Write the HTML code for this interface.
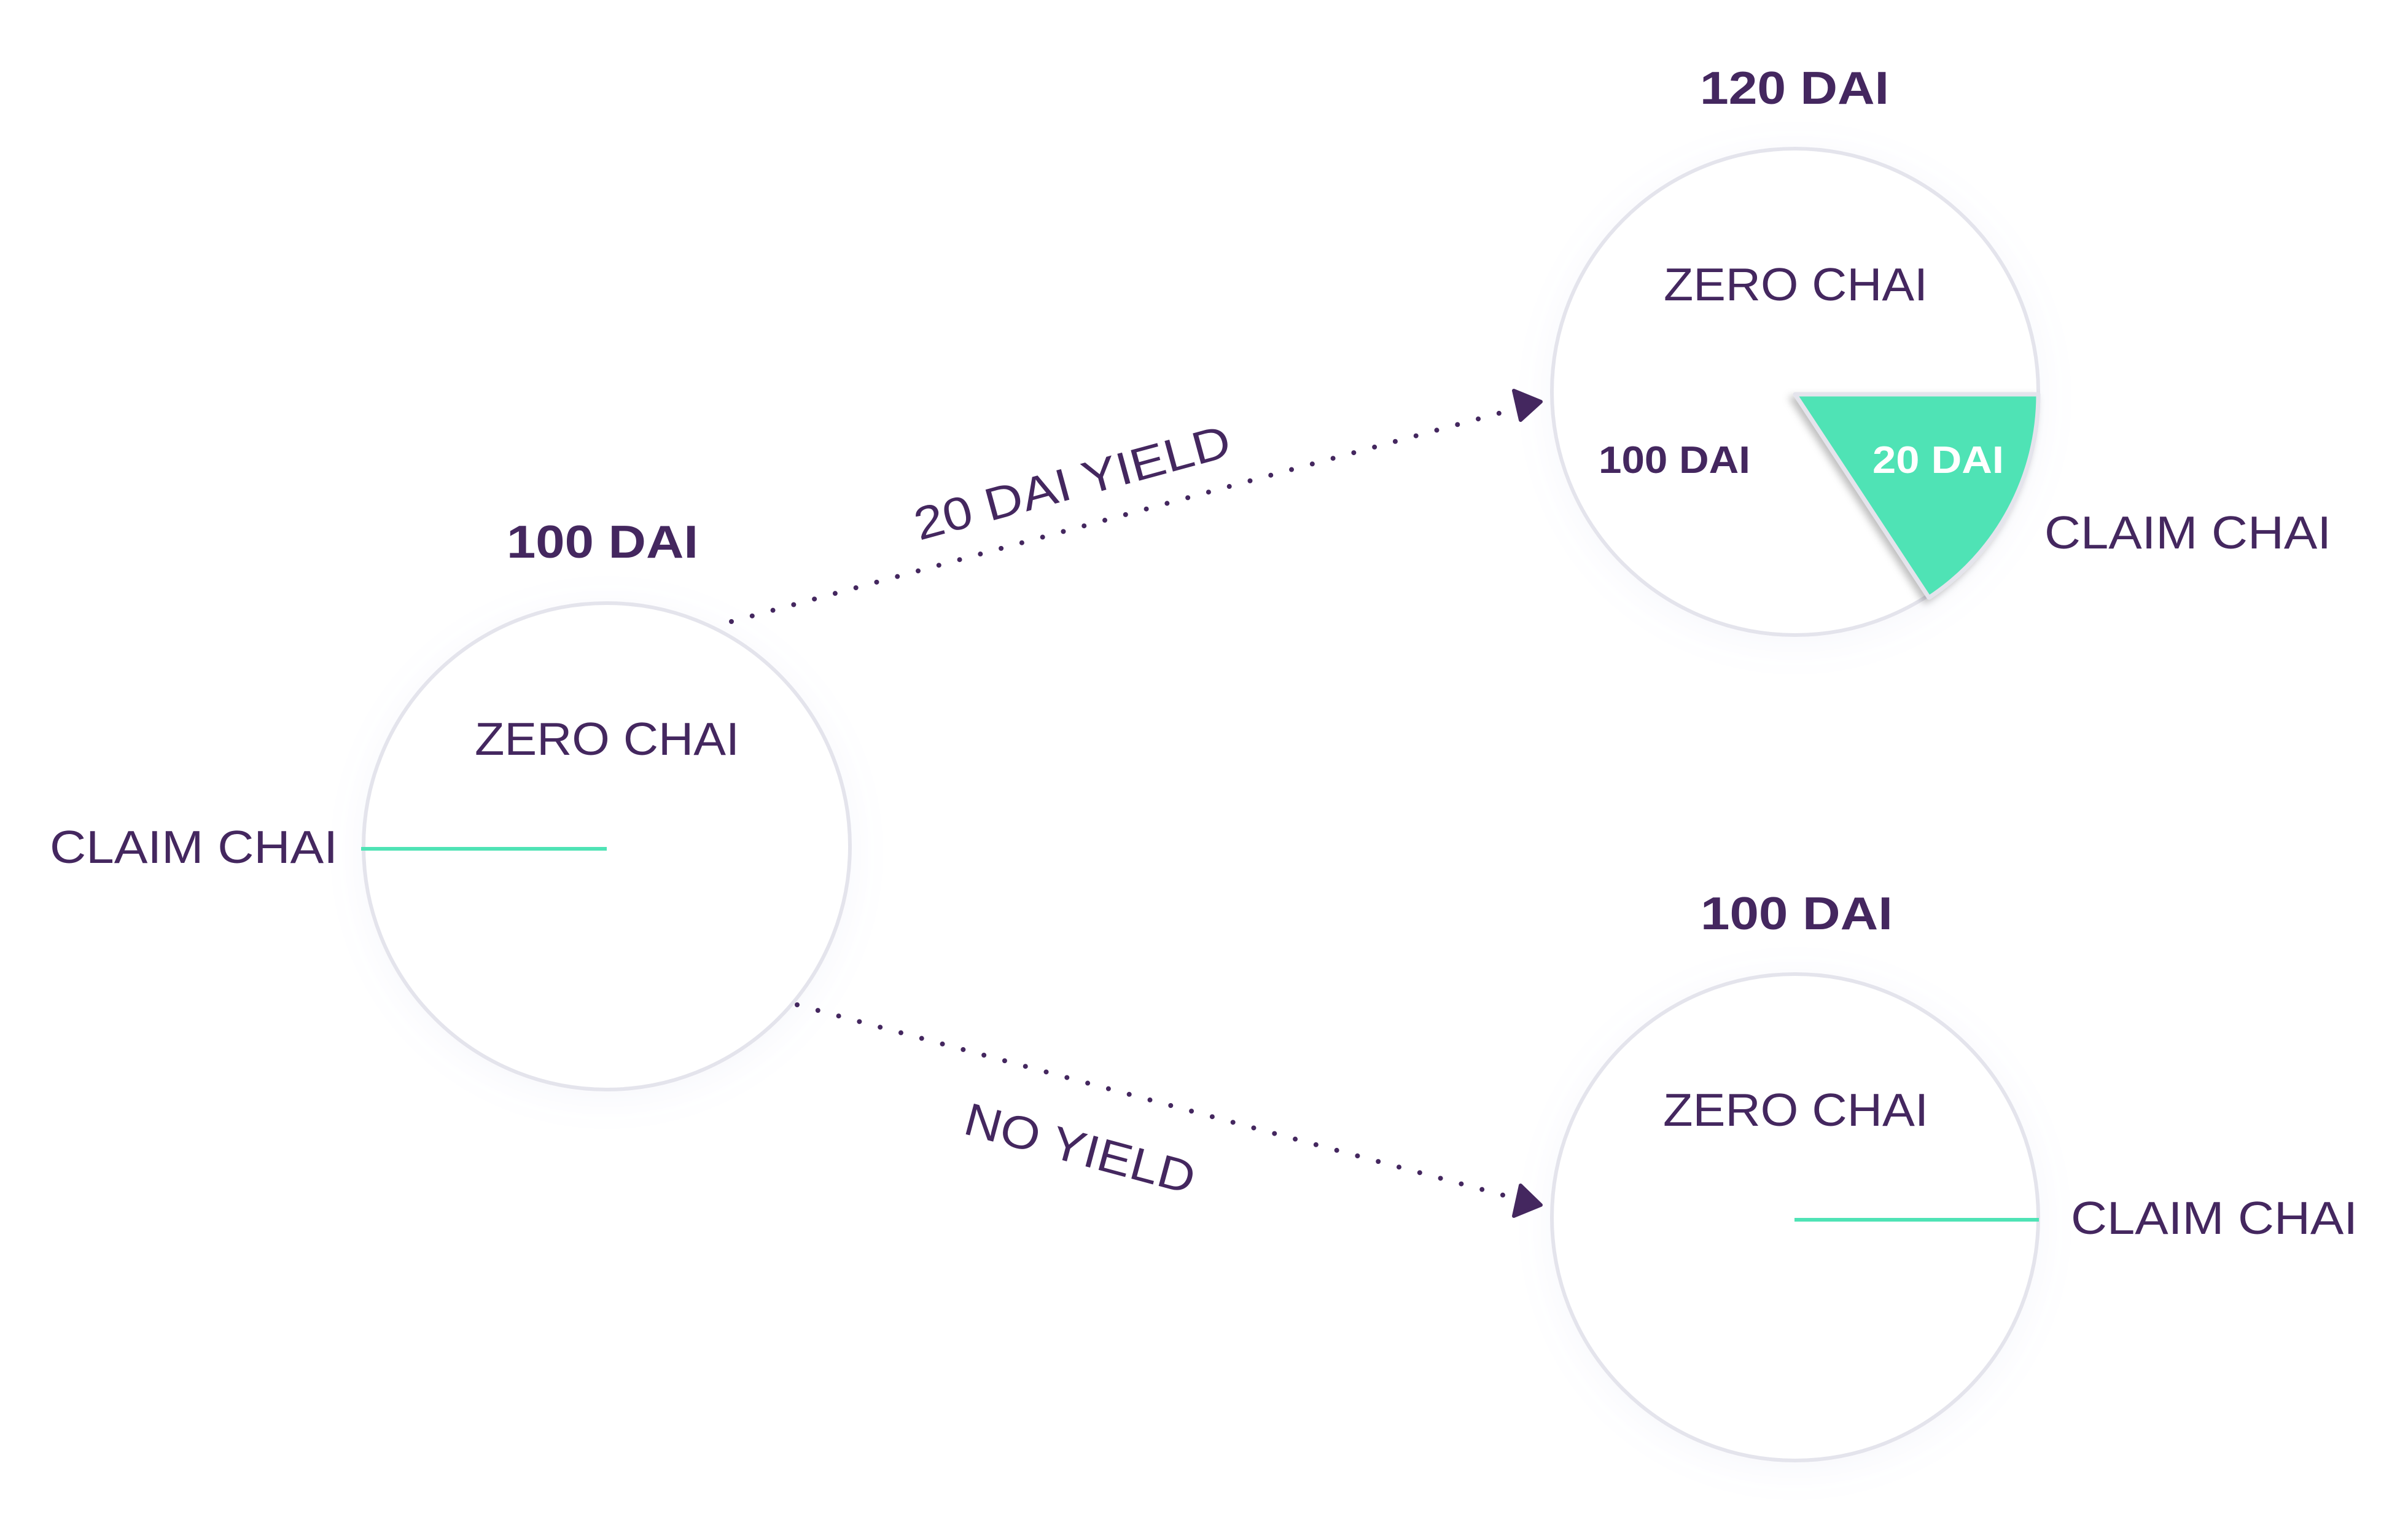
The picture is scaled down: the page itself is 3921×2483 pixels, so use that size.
<!DOCTYPE html>
<html><head><meta charset="utf-8"><style>
html,body{margin:0;padding:0;background:#fff;}
svg{display:block;}
text{font-family:"Liberation Sans",sans-serif;fill:#44275f;}
</style></head><body>
<svg width="3921" height="2483" viewBox="0 0 3921 2483" xmlns="http://www.w3.org/2000/svg">
<defs>
<filter id="sh" x="-30%" y="-30%" width="160%" height="160%">
<feGaussianBlur in="SourceAlpha" stdDeviation="30"/>
<feOffset dy="10"/>
<feComponentTransfer><feFuncA type="linear" slope="0.12"/></feComponentTransfer>
<feColorMatrix type="matrix" values="0 0 0 0 0.45 0 0 0 0 0.5 0 0 0 0 0.75 0 0 0 1 0"/>
<feMerge><feMergeNode/><feMergeNode in="SourceGraphic"/></feMerge>
</filter>
<filter id="ws" x="-30%" y="-30%" width="160%" height="160%">
<feDropShadow dx="-6" dy="6" stdDeviation="6" flood-color="#000" flood-opacity="0.25"/>
</filter>
<marker id="ah" markerWidth="12" markerHeight="10" refX="10" refY="5" orient="auto" markerUnits="userSpaceOnUse" viewBox="0 0 12 10">
</marker>
</defs>

<!-- circles -->
<g filter="url(#sh)">
<circle cx="988" cy="1378" r="396" fill="#fff" stroke="#e4e4ec" stroke-width="6"/>
<circle cx="2923" cy="638" r="396" fill="#fff" stroke="#e4e4ec" stroke-width="6"/>
<circle cx="2923" cy="1982" r="396" fill="#fff" stroke="#e4e4ec" stroke-width="6"/>
</g>

<!-- wedge -->
<path d="M2923,642 L3319,642 A396,396 0 0 1 3141,973 Z" fill="#4fe3b5" stroke="#e4e4ec" stroke-width="7" stroke-linejoin="round" filter="url(#ws)"/>

<!-- green lines -->
<line x1="588" y1="1382" x2="988" y2="1382" stroke="#4fe3b5" stroke-width="6"/>
<line x1="2922" y1="1986" x2="3320" y2="1986" stroke="#4fe3b5" stroke-width="6"/>

<!-- dotted connectors -->
<line x1="1191" y1="1012" x2="2470" y2="665" stroke="#44275f" stroke-width="8" stroke-linecap="round" stroke-dasharray="0 35"/>
<polygon points="2509,654 2465,636 2476,684" fill="#44275f" stroke="#44275f" stroke-width="6" stroke-linejoin="round"/>
<line x1="1298" y1="1636" x2="2470" y2="1952" stroke="#44275f" stroke-width="8" stroke-linecap="round" stroke-dasharray="0 35"/>
<polygon points="2509,1962 2476,1930 2465,1980" fill="#44275f" stroke="#44275f" stroke-width="6" stroke-linejoin="round"/>

<!-- connector labels -->
<text x="0" y="0" font-size="75" textLength="530" lengthAdjust="spacingAndGlyphs" transform="translate(1497,880) rotate(-15.2)">20 DAI YIELD</text>
<text x="0" y="0" font-size="75" textLength="385" lengthAdjust="spacingAndGlyphs" transform="translate(1566,1845) rotate(15)">NO YIELD</text>

<!-- left node -->
<text x="825" y="908" font-size="75" font-weight="bold" textLength="312" lengthAdjust="spacingAndGlyphs">100 DAI</text>
<text x="773" y="1229" font-size="75" textLength="431" lengthAdjust="spacingAndGlyphs">ZERO CHAI</text>
<text x="81" y="1405" font-size="75" textLength="469" lengthAdjust="spacingAndGlyphs">CLAIM CHAI</text>

<!-- top right node -->
<text x="2768" y="169" font-size="75" font-weight="bold" textLength="308" lengthAdjust="spacingAndGlyphs">120 DAI</text>
<text x="2709" y="489" font-size="75" textLength="430" lengthAdjust="spacingAndGlyphs">ZERO CHAI</text>
<text x="2603" y="770" font-size="62" font-weight="bold" textLength="247" lengthAdjust="spacingAndGlyphs">100 DAI</text>
<text x="3049" y="770" font-size="62" font-weight="bold" textLength="214" lengthAdjust="spacingAndGlyphs" style="fill:#fff">20 DAI</text>
<text x="3329" y="893" font-size="75" textLength="467" lengthAdjust="spacingAndGlyphs">CLAIM CHAI</text>

<!-- bottom right node -->
<text x="2769" y="1513" font-size="75" font-weight="bold" textLength="313" lengthAdjust="spacingAndGlyphs">100 DAI</text>
<text x="2708" y="1833" font-size="75" textLength="432" lengthAdjust="spacingAndGlyphs">ZERO CHAI</text>
<text x="3372" y="2009" font-size="75" textLength="467" lengthAdjust="spacingAndGlyphs">CLAIM CHAI</text>
</svg>
</body></html>
